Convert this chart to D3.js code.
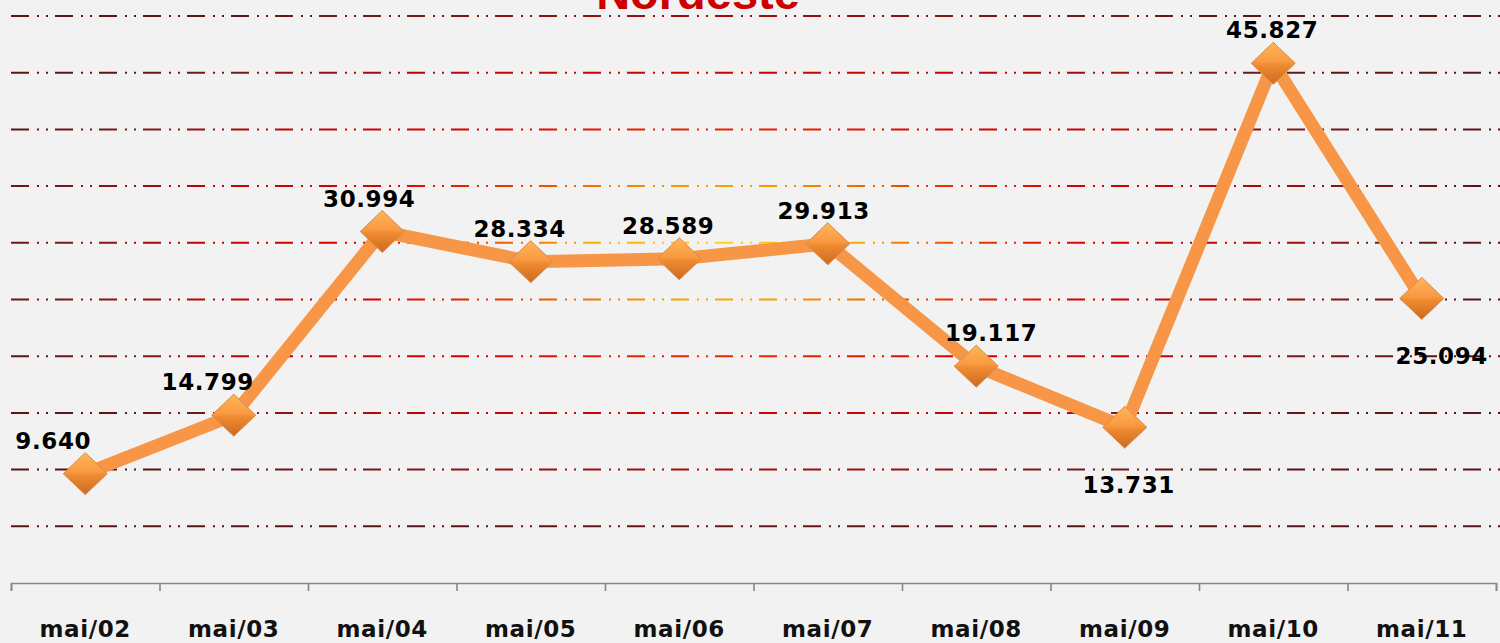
<!DOCTYPE html>
<html>
<head>
<meta charset="utf-8">
<script src="https://cdn.jsdelivr.net/npm/d3@7"></script>
<style>
  body { margin: 0; background: #f2f2f2; }
  svg { display: block; }
</style>
</head>
<body>
<div class="root"></div>
<script>
// Nordeste - maio de cada ano
const categories = ['mai/02', 'mai/03', 'mai/04', 'mai/05', 'mai/06', 'mai/07', 'mai/08', 'mai/09', 'mai/10', 'mai/11'];
const values = [9.640, 14.799, 30.994, 28.334, 28.589, 29.913, 19.117, 13.731, 45.827, 25.094];
const gridValues = [5, 10, 15, 20, 25, 30, 35, 40, 45, 50];

// label placement hints (layout, not data)
const labelBelow = [false, false, false, false, false, false, false, true, false, true];
const labelNudge = [-32, -26, -13, -11, -11, -4, 15, 4, -1, 20];

const width = 1500;
const height = 643;
const margin = { left: 11, right: 4, top: 16, bottom: 60 };

const svg = d3.select('.root')
  .append('svg')
  .attr('width', width)
  .attr('height', height);

svg.append('rect')
  .attr('width', width)
  .attr('height', height)
  .attr('fill', '#f2f2f2');

const defs = svg.append('defs');

const gridGrad = defs.append('radialGradient')
  .attr('id', 'gridGrad')
  .attr('gradientUnits', 'userSpaceOnUse')
  .attr('cx', 0).attr('cy', 0).attr('r', 1)
  .attr('gradientTransform', 'translate(720,245) scale(770,300)');
[[0, '#ffd41f'], [0.18, '#f6ac00'], [0.33, '#ea3a00'], [0.48, '#dd0000'], [0.7, '#b80606'], [0.84, '#7c1a1a'], [1, '#5a1616']]
  .forEach(([o, c]) => gridGrad.append('stop').attr('offset', o).attr('stop-color', c));

const diaGrad = defs.append('linearGradient')
  .attr('id', 'diaGrad')
  .attr('x1', 0).attr('y1', 0).attr('x2', 0).attr('y2', 1);
[[0, '#ffb658'], [0.45, '#f99a42'], [0.55, '#ee8a30'], [1, '#cc6a20']]
  .forEach(([o, c]) => diaGrad.append('stop').attr('offset', o).attr('stop-color', c));

const x = d3.scaleBand()
  .domain(categories)
  .range([margin.left, width - margin.right]);

const edge = d3.scaleLinear()
  .domain([0, categories.length])
  .range([margin.left, width - margin.right]);

const y = d3.scaleLinear()
  .domain([0, 50])
  .range([583, 16]);

const cx = d => x(d) + x.bandwidth() / 2;

// gridlines
svg.append('g')
  .selectAll('line')
  .data(gridValues)
  .enter()
  .append('line')
  .attr('x1', margin.left)
  .attr('x2', width)
  .attr('y1', d => y(d))
  .attr('y2', d => y(d))
  .attr('stroke', 'url(#gridGrad)')
  .attr('stroke-width', 2)
  .attr('stroke-dasharray', '18,8,2,7,2,7');

// x axis (ticks at category edges)
const axis = svg.append('g')
  .attr('transform', `translate(0, ${y(0)})`)
  .call(d3.axisBottom(edge)
    .tickValues(d3.range(categories.length + 1))
    .tickSize(8)
    .tickFormat(''));
axis.selectAll('path, line')
  .attr('stroke', '#878787')
  .attr('stroke-width', 1.6);

svg.append('g')
  .selectAll('text')
  .data(categories)
  .enter()
  .append('text')
  .attr('x', d => cx(d))
  .attr('y', 637)
  .attr('text-anchor', 'middle')
  .attr('font-family', 'DejaVu Sans, Verdana, sans-serif')
  .attr('font-weight', 'bold')
  .attr('font-size', 23)
  .attr('letter-spacing', 0.6)
  .attr('fill', '#111')
  .text(d => d);

// line
const line = d3.line()
  .x((d, i) => cx(categories[i]))
  .y(d => y(d));

svg.append('path')
  .datum(values)
  .attr('fill', 'none')
  .attr('stroke', '#f79646')
  .attr('stroke-width', 13)
  .attr('stroke-linejoin', 'miter')
  .attr('d', line);

// markers
svg.append('g')
  .selectAll('path')
  .data(values)
  .enter()
  .append('path')
  .attr('transform', (d, i) => `translate(${cx(categories[i])}, ${y(d)})`)
  .attr('d', 'M0,-21L22,0L0,21L-22,0Z')
  .attr('fill', 'url(#diaGrad)')
  .attr('stroke', '#d98a4a')
  .attr('stroke-width', 1);

// data labels
const fmt = d => d3.format('.3f')(d);
svg.append('g')
  .selectAll('text')
  .data(values)
  .enter()
  .append('text')
  .attr('x', (d, i) => cx(categories[i]) + labelNudge[i])
  .attr('y', (d, i) => labelBelow[i] ? y(d) + 66 : y(d) - 25)
  .attr('text-anchor', 'middle')
  .attr('font-family', 'DejaVu Sans, Verdana, sans-serif')
  .attr('font-weight', 'bold')
  .attr('font-size', 23)
  .attr('letter-spacing', 0.6)
  .attr('fill', '#000')
  .text(d => fmt(d));

// title (cut at the top edge, as in the original)
svg.append('text')
  .attr('x', 698)
  .attr('y', 9)
  .attr('text-anchor', 'middle')
  .attr('font-family', 'Liberation Sans, Arial, sans-serif')
  .attr('font-weight', 'bold')
  .attr('font-size', 47)
  .attr('fill', '#cc0000')
  .text('Nordeste');
</script>
</body>
</html>
